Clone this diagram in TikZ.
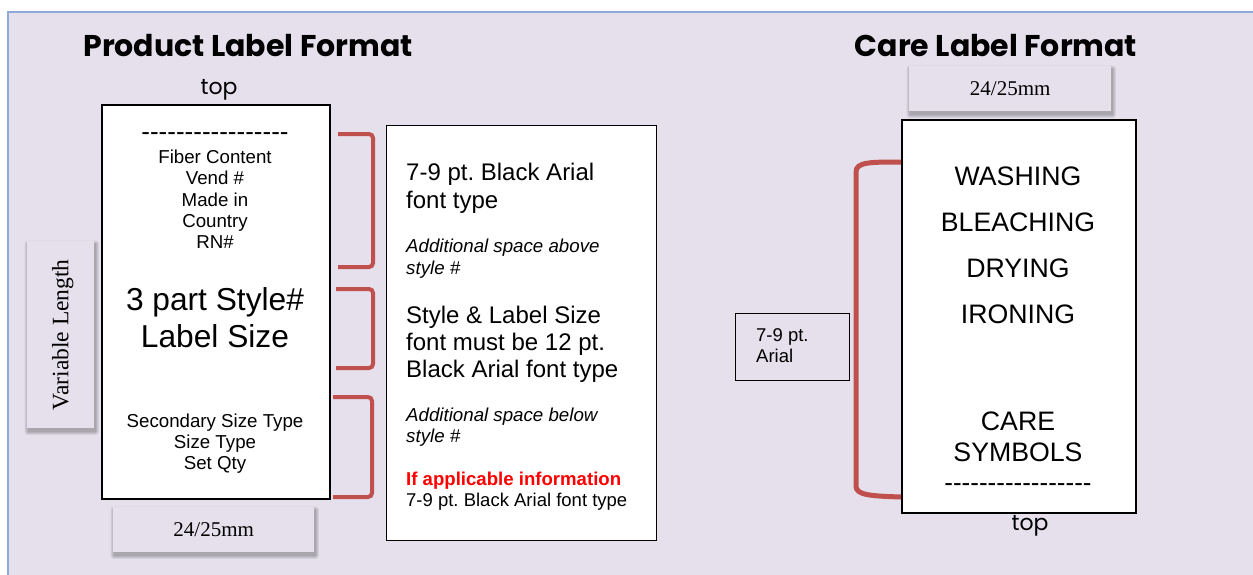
\documentclass[tikz,border=0pt]{standalone}
\usepackage{fontspec}
\setmainfont{Liberation Sans}
\newfontfamily\timesf{Liberation Serif}
\newfontfamily\gothic{Poppins}
\usetikzlibrary{backgrounds}
\definecolor{bg}{HTML}{E5E0EC}
\definecolor{framec}{HTML}{8EAADB}
\definecolor{brk}{HTML}{C0504D}
\definecolor{redtxt}{HTML}{FF0000}
\newcommand{\fs}[1]{\fontsize{#1}{#1}\selectfont}
\newcommand{\hyrow}{{-}{-}{-}{-}{-}{-}{-}{-}{-}{-}{-}{-}{-}{-}{-}{-}{-}}
\newcommand{\softshadow}[1]{%
  \foreach \k in {0.5,1.5,2.5,3.5}{%
    \fill[black,opacity=0.07,rounded corners=\k pt]
      ([xshift=1pt-\k pt,yshift=-3pt+\k pt]#1.north west) rectangle
      ([xshift=1pt+\k pt,yshift=-3pt-\k pt]#1.south east);}}
\pgfdeclarelayer{bot}
\pgfsetlayers{bot,background,main}
\begin{document}
\frenchspacing
\begin{tikzpicture}[x=1pt,y=-1pt,
  lbl/.style={draw=black,line width=1.5pt,fill=white,anchor=north west,inner sep=0pt},
  tagbox/.style={fill=bg,anchor=north west,inner sep=0pt},
  brack/.style={draw=brk,line width=4pt,rounded corners=4pt},
  ttl/.style={font=\gothic\bfseries\fs{30}},
  toptxt/.style={font=\gothic\fs{22}},
  tms/.style={font=\timesf\fs{21}},
  txt/.style={anchor=base,inner sep=0pt},
  ltxt/.style={anchor=base west,inner sep=0pt},
]
\useasboundingbox (0,0) rectangle (1253,574);
\begin{pgfonlayer}{bot}
\fill[bg,draw=framec,line width=1.5pt] (8,12) rectangle (1270,590);
\end{pgfonlayer}

% titles
\node[ttl] (t1) at (248,46) {Product Label Format};
\node[ttl] (t2) at (996,46) {Care Label Format};
\node[toptxt] (top1) at (219,90) {top};
\node[toptxt] (top2) at (1030,526) {top};

% product label
\node[lbl,minimum width=228pt,minimum height=394pt] (prod) at (101,104) {};
\node[txt,font=\fs{26}] (pd) at (215,140) {\hyrow};
\node[txt,font=\fs{18.7}] (p1) at (215,163.5) {Fiber Content};
\node[txt,font=\fs{18.7}] (p2) at (215,184.5) {Vend \#};
\node[txt,font=\fs{18.7}] (p3) at (215,206.5) {Made in};
\node[txt,font=\fs{18.7}] (p4) at (215,227.5) {Country};
\node[txt,font=\fs{18.7}] (p5) at (215,248.5) {RN\#};
\node[txt,font=\fs{31.7}] (p6) at (215,310.5) {3 part Style\#};
\node[txt,font=\fs{31.7}] (p7) at (215,347.5) {Label Size};
\node[txt,font=\fs{18.7}] (p8) at (215,427.5) {Secondary Size Type};
\node[txt,font=\fs{18.7}] (p9) at (215,448.5) {Size Type};
\node[txt,font=\fs{18.7}] (p10) at (215,469.5) {Set Qty};

% variable length and width tags
\node[tagbox,minimum width=67pt,minimum height=187pt] (vl) at (27,241) {};
\node[tms,font=\timesf\fs{23.5},rotate=90] (vlt) at ([xshift=2pt]vl.center) {Variable Length};
\node[tagbox,minimum width=201pt,minimum height=45pt] (w1) at (113,507) {};
\node[tms] (w1t) at (w1.center) {24/25mm};
\node[tagbox,minimum width=202pt,minimum height=45pt] (w2) at (909,66) {};
\node[tms] (w2t) at (w2.center) {24/25mm};
\begin{pgfonlayer}{background}
\softshadow{vl}
\softshadow{w1}
\softshadow{w2}
\end{pgfonlayer}

% explanation box
\node[lbl,line width=1.2pt,minimum width=270pt,minimum height=415pt] (exp) at (386,125) {};
\node[ltxt,font=\fs{24}] (e1) at (406,180.6) {7-9 pt. Black Arial};
\node[ltxt,font=\fs{24}] (e2) at (406,208.6) {font type};
\node[ltxt,font=\itshape\fs{18.7}] (e3) at (406,252.5) {Additional space above};
\node[ltxt,font=\itshape\fs{18.7}] (e4) at (406,274.5) {style \#};
\node[ltxt,font=\fs{24}] (e5) at (406,323.6) {Style \& Label Size};
\node[ltxt,font=\fs{24}] (e6) at (406,350.6) {font must be 12 pt.};
\node[ltxt,font=\fs{24}] (e7) at (406,377.6) {Black Arial font type};
\node[ltxt,font=\itshape\fs{18.7}] (e8) at (406,421.5) {Additional space below};
\node[ltxt,font=\itshape\fs{18.7}] (e9) at (406,442.5) {style \#};
\node[ltxt,font=\bfseries\fs{18.6},text=redtxt] (e10) at (406,485.5) {If applicable information};
\node[ltxt,font=\fs{18.5}] (e11) at (406,506) {7-9 pt. Black Arial font type};

% product brackets
\draw[brack] (338,134) -- (373,134) -- (373,267) -- (338,267);
\draw[brack] (336,289) -- (373,289) -- (373,368) -- (336,368);
\draw[brack] (333,397) -- (372,397) -- (372,497) -- (333,497);

% care label
\node[lbl,minimum width=234pt,minimum height=393pt] (care) at (901,119) {};
\node[txt,font=\fs{26.7}] (c1) at (1018,185.5) {WASHING};
\node[txt,font=\fs{26.7}] (c2) at (1018,231.5) {BLEACHING};
\node[txt,font=\fs{26.7}] (c3) at (1018,277.5) {DRYING};
\node[txt,font=\fs{26.7}] (c4) at (1018,323.5) {IRONING};
\node[txt,font=\fs{26.7}] (c5) at (1018,430.5) {CARE};
\node[txt,font=\fs{26.7}] (c6) at (1018,461.5) {SYMBOLS};
\node[txt,font=\fs{26}] (cd) at (1018,491) {\hyrow};

% arial note
\node[draw=black,line width=1pt,anchor=north west,inner sep=0pt,minimum width=114pt,minimum height=67pt] (note) at (735,313) {};
\node[ltxt,font=\fs{18.5}] (n1) at (756,341.5) {7-9 pt.};
\node[ltxt,font=\fs{18.5}] (n2) at (756,362.5) {Arial};

% care bracket
\draw[draw=brk,line width=5pt] (care.west |- 0,162) .. controls (870,162) and (856,162) .. (856,172)
  -- (856,486) .. controls (856,495) and (870,496) .. (care.west |- 0,497);
\end{tikzpicture}
\end{document}
